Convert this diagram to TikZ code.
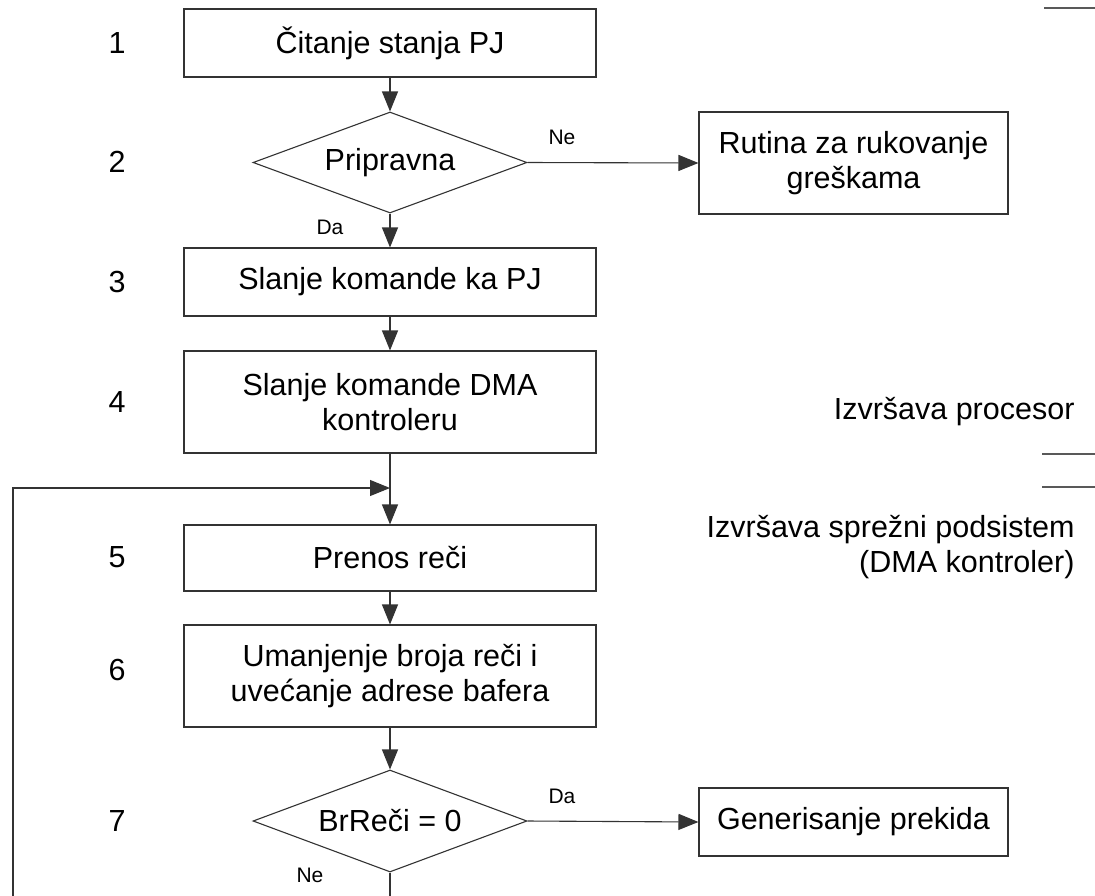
\documentclass[tikz,border=0pt]{standalone}
\usepackage{fontspec}
\setmainfont{Liberation Sans}
\usetikzlibrary{arrows.meta,shapes.geometric}

\begin{document}
\begin{tikzpicture}[x=1pt,y=-1pt,
  every node/.style={font=\fontsize{30.5}{35}\selectfont, text=black},
  line/.style={draw=black!80, line width=1.1pt},
  arr/.style={line, -{Triangle[length=20pt,width=16pt]}},
  stepbox/.style={line, rectangle, fill=white, align=center, inner sep=0pt,
                  minimum width=412pt},
  sidebox/.style={line, rectangle, fill=white, align=center, inner sep=0pt,
                  minimum width=309pt},
  decision/.style={line, diamond, fill=white, aspect=2.71, inner sep=0pt,
                   minimum width=274pt, minimum height=101pt},
  lbl/.style={font=\fontsize{21}{25}\selectfont},
  num/.style={font=\fontsize{30.5}{35}\selectfont},
  sep/.style={draw=black!65, line width=1.7pt}]

  \useasboundingbox (0,0) rectangle (1095,895);
  \clip (0,0) rectangle (1095,895);
  \fill[white] (0,0) rectangle (1095,895);

  % main column of steps
  \node[stepbox, minimum height=68pt]  (b1) at (390,43)    {Čitanje stanja PJ};
  \node[decision]                      (d2) at (390,162.5) {Pripravna};
  \node[stepbox, minimum height=68pt]  (b3) at (390,282)   {Slanje komande ka PJ};
  \node[stepbox, minimum height=102pt] (b4) at (390,402)   {Slanje komande DMA\\kontroleru};
  \node[stepbox, minimum height=66pt]  (b5) at (390,558)   {Prenos reči};
  \node[stepbox, minimum height=102pt] (b6) at (390,676)   {Umanjenje broja reči i\\uvećanje adrese bafera};
  \node[decision, minimum height=102pt] (d7) at (390,821)  {BrReči = 0};

  % side branches
  \node[sidebox, minimum height=102pt] (rut) at (853.5,163) {Rutina za rukovanje\\greškama};
  \node[sidebox, minimum height=68pt]  (gen) at (853.5,822) {Generisanje prekida};

  % step numbers
  \node[num] (n1) at (117,43)  {1};
  \node[num] (n2) at (117,162) {2};
  \node[num] (n3) at (117,282) {3};
  \node[num] (n4) at (117,402) {4};
  \node[num] (n5) at (117,557) {5};
  \node[num] (n6) at (117,670) {6};
  \node[num] (n7) at (117,821) {7};

  % branch labels
  \node[lbl] (ne1) at (562,137) {Ne};
  \node[lbl] (da1) at (330,227) {Da};
  \node[lbl] (da2) at (562,796) {Da};
  \node[lbl] (ne2) at (310,875) {Ne};

  % who executes which part
  \node[anchor=east] (cpu) at (1078,412) {Izvršava procesor};
  \node[anchor=east, align=right] (dma) at (1078,547)
       {Izvršava sprežni podsistem\\(DMA kontroler)};
  \draw[sep] (1044,8)   -- (1100,8);
  \draw[sep] (1042,454) -- (1100,454);
  \draw[sep] (1042,487) -- (1100,487);

  % flow
  \draw[arr] (b1) -- (d2);
  \draw[arr] (d2.east) -- (rut.west);
  \draw[arr] (d2.south) -- (b3);
  \draw[arr] (b3) -- (b4);
  \draw[arr] (b4) -- (b5);
  \draw[arr] (b5) -- (b6);
  \draw[arr] (b6) -- (d7);
  \draw[arr] (d7.east) -- (gen.west);

  % loop back for the next word
  \coordinate (join) at (390,488);
  \coordinate (lb) at (13,960);
  \coordinate (lt) at (13,488);
  \draw[arr] (d7.south) |- (lb) -- (lt) -- (join);
\end{tikzpicture}
\end{document}
